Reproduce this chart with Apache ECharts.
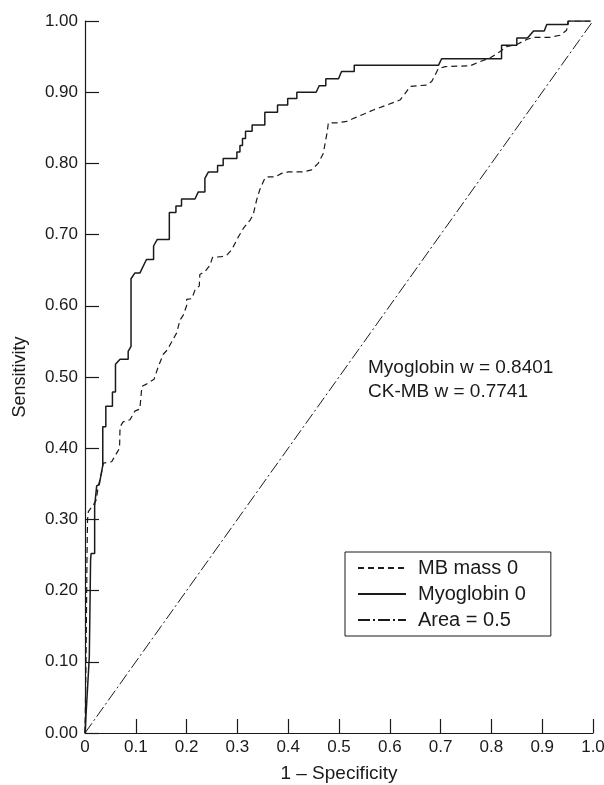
<!DOCTYPE html>
<html>
<head>
<meta charset="utf-8">
<script src="https://cdn.jsdelivr.net/npm/echarts@6/dist/echarts.min.js"></script>
<style>
html,body{margin:0;padding:0;background:#fff;}
#chart{width:604px;height:785px;}
</style>
</head>
<body>
<div id="chart"></div>
<script>
// ---- data ----
const xTickLabels = ['0','0.1','0.2','0.3','0.4','0.5','0.6','0.7','0.8','0.9','1.0'];
const yTickLabels = ['0.00','0.10','0.20','0.30','0.40','0.50','0.60','0.70','0.80','0.90','1.00'];

const seriesNames = ['MB mass 0', 'Myoglobin 0', 'Area = 0.5'];

const myoglobinX = [0,0.0085,0.011,0.012,0.019,0.019,0.023,0.028,0.035,0.035,0.041,0.041,0.054,0.054,0.060,0.060,0.069,0.085,0.085,0.0906,0.0906,0.098,0.108,0.121,0.135,0.135,0.142,0.166,0.166,0.179,0.179,0.190,0.190,0.2165,0.223,0.236,0.236,0.243,0.261,0.261,0.272,0.272,0.299,0.299,0.305,0.305,0.310,0.310,0.316,0.316,0.329,0.329,0.354,0.354,0.379,0.379,0.399,0.399,0.417,0.417,0.455,0.461,0.474,0.474,0.499,0.505,0.530,0.530,0.696,0.702,0.820,0.820,0.850,0.850,0.871,0.883,0.904,0.909,0.951,0.951,0.995];
const myoglobinY = [0,0.107,0.243,0.252,0.252,0.319,0.347,0.349,0.376,0.430,0.430,0.459,0.459,0.479,0.479,0.518,0.525,0.525,0.536,0.543,0.638,0.646,0.646,0.665,0.665,0.684,0.693,0.693,0.731,0.731,0.740,0.740,0.750,0.750,0.760,0.760,0.779,0.788,0.788,0.797,0.797,0.807,0.807,0.816,0.816,0.825,0.825,0.835,0.835,0.845,0.845,0.854,0.854,0.872,0.872,0.882,0.882,0.891,0.891,0.900,0.900,0.909,0.909,0.919,0.919,0.929,0.929,0.938,0.938,0.947,0.947,0.966,0.966,0.976,0.976,0.986,0.986,0.995,0.995,1.0,1.0];

const mbMassX = [0,0.002,0.004,0.005,0.0066,0.016,0.022,0.026,0.033,0.036,0.0525,0.059,0.0656,0.068,0.069,0.075,0.0886,0.098,0.108,0.111,0.112,0.121,0.136,0.144,0.154,0.162,0.1805,0.187,0.1935,0.200,0.200,0.210,0.2165,0.225,0.226,0.236,0.246,0.251,0.269,0.279,0.289,0.302,0.312,0.325,0.331,0.338,0.344,0.354,0.358,0.374,0.387,0.400,0.430,0.446,0.459,0.469,0.477,0.479,0.4955,0.515,0.528,0.548,0.5675,0.594,0.620,0.630,0.640,0.653,0.6725,0.6825,0.6955,0.709,0.758,0.7775,0.797,0.817,0.830,0.850,0.8695,0.8825,0.915,0.935,0.948,0.951,1.0];
const mbMassY = [0,0.100,0.250,0.300,0.311,0.320,0.327,0.346,0.367,0.379,0.381,0.389,0.397,0.400,0.430,0.437,0.440,0.452,0.455,0.456,0.487,0.490,0.497,0.514,0.532,0.538,0.562,0.580,0.587,0.600,0.609,0.610,0.622,0.628,0.644,0.648,0.657,0.668,0.669,0.671,0.679,0.697,0.709,0.7205,0.7275,0.749,0.763,0.779,0.781,0.781,0.786,0.788,0.788,0.791,0.800,0.814,0.845,0.857,0.857,0.859,0.863,0.869,0.875,0.882,0.889,0.898,0.908,0.909,0.910,0.915,0.933,0.936,0.937,0.943,0.948,0.957,0.964,0.967,0.974,0.977,0.977,0.980,0.987,1.0,1.0];

const chanceX = [0, 1];
const chanceY = [0, 1];

const annotationLines = ['Myoglobin w = 0.8401', 'CK-MB w = 0.7741'];

// ---- build ----
function zip(xs, ys){ return xs.map((x,i)=>[x, ys[i]]); }
const FONT = 'Liberation Sans, Arial, Helvetica, sans-serif';
const INK = '#1a1a1a';

const chart = echarts.init(document.getElementById('chart'), null, {renderer:'canvas'});
chart.setOption({
  animation: false,
  backgroundColor: '#fff',
  grid: {left: 85, right: 11, top: 21, bottom: 52, containLabel: false, outerBoundsMode: 'none'},
  xAxis: {
    type: 'value', min: 0, max: 1, interval: 0.1,
    name: '1 – Specificity', nameLocation: 'middle', nameGap: 31,
    nameTextStyle: {fontFamily: FONT, fontSize: 19, color: INK},
    axisLine: {show: true, lineStyle: {color: INK, width: 1.2}},
    axisTick: {show: true, inside: true, length: 14, lineStyle: {color: INK, width: 1.2}},
    axisLabel: {fontFamily: FONT, fontSize: 17, color: INK, margin: 6,
      formatter: (v) => xTickLabels[Math.round(v*10)]},
    splitLine: {show: false}
  },
  yAxis: {
    type: 'value', min: 0, max: 1, interval: 0.1,
    name: 'Sensitivity', nameLocation: 'middle', nameGap: 56, nameRotate: 90,
    nameTextStyle: {fontFamily: FONT, fontSize: 18, color: INK},
    axisLine: {show: true, lineStyle: {color: INK, width: 1.2}},
    axisTick: {show: true, inside: true, length: 14, lineStyle: {color: INK, width: 1.2}},
    axisLabel: {fontFamily: FONT, fontSize: 17, color: INK, margin: 7,
      formatter: (v) => yTickLabels[Math.round(v*10)]},
    splitLine: {show: false}
  },
  legend: {
    orient: 'vertical', left: 345, top: 552,
    data: seriesNames,
    borderColor: INK, borderWidth: 1, borderRadius: 0,
    padding: [6, 25, 6, 12],
    itemGap: 6, itemWidth: 48, itemHeight: 14,
    itemStyle: {opacity: 0},
    textStyle: {fontFamily: FONT, fontSize: 20, color: INK, lineHeight: 19, padding: [0,0,0,7]}
  },
  graphic: [
    {type: 'text', left: 368, top: 358, style: {text: annotationLines[0], font: '19px ' + FONT, fill: INK}},
    {type: 'text', left: 368, top: 382, style: {text: annotationLines[1], font: '19px ' + FONT, fill: INK}}
  ],
  series: [
    {name: seriesNames[0], type: 'line', data: zip(mbMassX, mbMassY), showSymbol: false, symbol: 'none',
      lineStyle: {color: INK, width: 1.2, type: [6, 4]}, itemStyle: {color: INK}},
    {name: seriesNames[1], type: 'line', data: zip(myoglobinX, myoglobinY), showSymbol: false, symbol: 'none',
      lineStyle: {color: INK, width: 1.5, type: 'solid'}, itemStyle: {color: INK}},
    {name: seriesNames[2], type: 'line', data: zip(chanceX, chanceY), showSymbol: false, symbol: 'none',
      lineStyle: {color: INK, width: 1, type: [12, 3, 2, 3]}, itemStyle: {color: INK}}
  ]
});
</script>
</body>
</html>
